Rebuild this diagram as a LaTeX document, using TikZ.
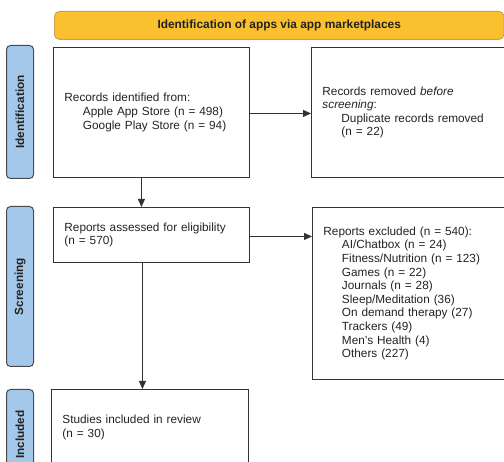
\documentclass[tikz,border=0pt]{standalone}
\usepackage{fontspec}
\setmainfont{Liberation Sans}
\usetikzlibrary{arrows.meta}
\definecolor{barfill}{HTML}{FBC02D}
\definecolor{barline}{HTML}{C9A055}
\definecolor{sidefill}{HTML}{A4C8EA}
\definecolor{sideline}{HTML}{4A4A4A}
\definecolor{boxline}{HTML}{333333}
\definecolor{txt}{HTML}{222222}
\tikzset{
  flowbox/.style={draw=boxline, line width=0.9pt, rectangle, anchor=north west,
    align=left, inner xsep=11pt, inner ysep=0pt, text=txt,
    font=\fontsize{11.8}{13.6}\selectfont},
  sidebox/.style={draw=sideline, fill=sidefill, line width=1pt, rounded corners=4pt,
    anchor=north west, minimum width=27pt, inner sep=0pt},
  sidelabel/.style={rotate=90, text=txt, font=\bfseries\fontsize{11.8}{13}\selectfont},
  arr/.style={draw=boxline, line width=0.8pt, -{Triangle[length=8pt,width=7pt]}}
}
\begin{document}
\begin{tikzpicture}[x=1pt,y=-1pt]
\useasboundingbox (0,0) rectangle (504,462);
\clip (0,0) rectangle (504,462);
% title bar
\node[draw=barline, fill=barfill, line width=0.9pt, rounded corners=5pt, anchor=north west,
  minimum width=449.5pt, minimum height=28pt, inner sep=0pt, text=txt,
  font=\bfseries\fontsize{11.9}{13}\selectfont] (bar) at (54,11)
  {Identification of apps via app marketplaces};
% side labels
\node[sidebox, minimum height=133pt] (sid) at (6,45) {};
\node[sidelabel] at (sid.center) {Identification};
\node[sidebox, minimum height=160pt] (sscr) at (6,206) {};
\node[sidelabel] at (sscr.center) {Screening};
\node[sidebox, minimum height=90pt] (sinc) at (6,389) {};
\node[sidelabel] at (sinc.center) {Included};
% boxes
\node[flowbox, minimum width=196pt, minimum height=130pt, text width=174pt] (b1) at (53,47)
  {Records identified from:\\
   \hspace*{18.5pt}Apple App Store (n = 498)\\
   \hspace*{18.5pt}Google Play Store (n = 94)};
\node[flowbox, minimum width=220pt, minimum height=130pt, text width=198pt] (b2) at (311,47)
  {Records removed \emph{before}\\
   \emph{screening}:\\
   \hspace*{19pt}Duplicate records removed\\
   \hspace*{19pt}(n = 22)};
\node[flowbox, minimum width=196pt, minimum height=55pt, text width=174pt] (b3) at (53,207)
  {Reports assessed for eligibility\\
   (n = 570)};
\node[flowbox, minimum width=220pt, minimum height=172pt, text width=198pt] (b4) at (312,207)
  {Reports excluded (n = 540):\\
   \hspace*{18.5pt}AI/Chatbox (n = 24)\\
   \hspace*{18.5pt}Fitness/Nutrition (n = 123)\\
   \hspace*{18.5pt}Games (n = 22)\\
   \hspace*{18.5pt}Journals (n = 28)\\
   \hspace*{18.5pt}Sleep/Meditation (36)\\
   \hspace*{18.5pt}On demand therapy (27)\\
   \hspace*{18.5pt}Trackers (49)\\
   \hspace*{18.5pt}Men’s Health (4)\\
   \hspace*{18.5pt}Others (227)};
\node[flowbox, minimum width=197pt, minimum height=76pt, text width=175pt] (b5) at (51,389)
  {Studies included in review\\
   (n = 30)};
% connectors
\draw[arr] ([yshift=-1pt]b1.east) -- ([yshift=-1pt]b1.east -| b2.west);
\draw[arr] ([xshift=-10pt]b1.south) -- ([xshift=-10pt]b1.south |- b3.north);
\draw[arr] ([yshift=-1.5pt]b3.east) -- ([yshift=-1.5pt]b3.east -| b4.west);
\draw[arr] ([xshift=-9pt]b3.south) -- ([xshift=-9pt]b3.south |- b5.north);
\end{tikzpicture}
\end{document}
